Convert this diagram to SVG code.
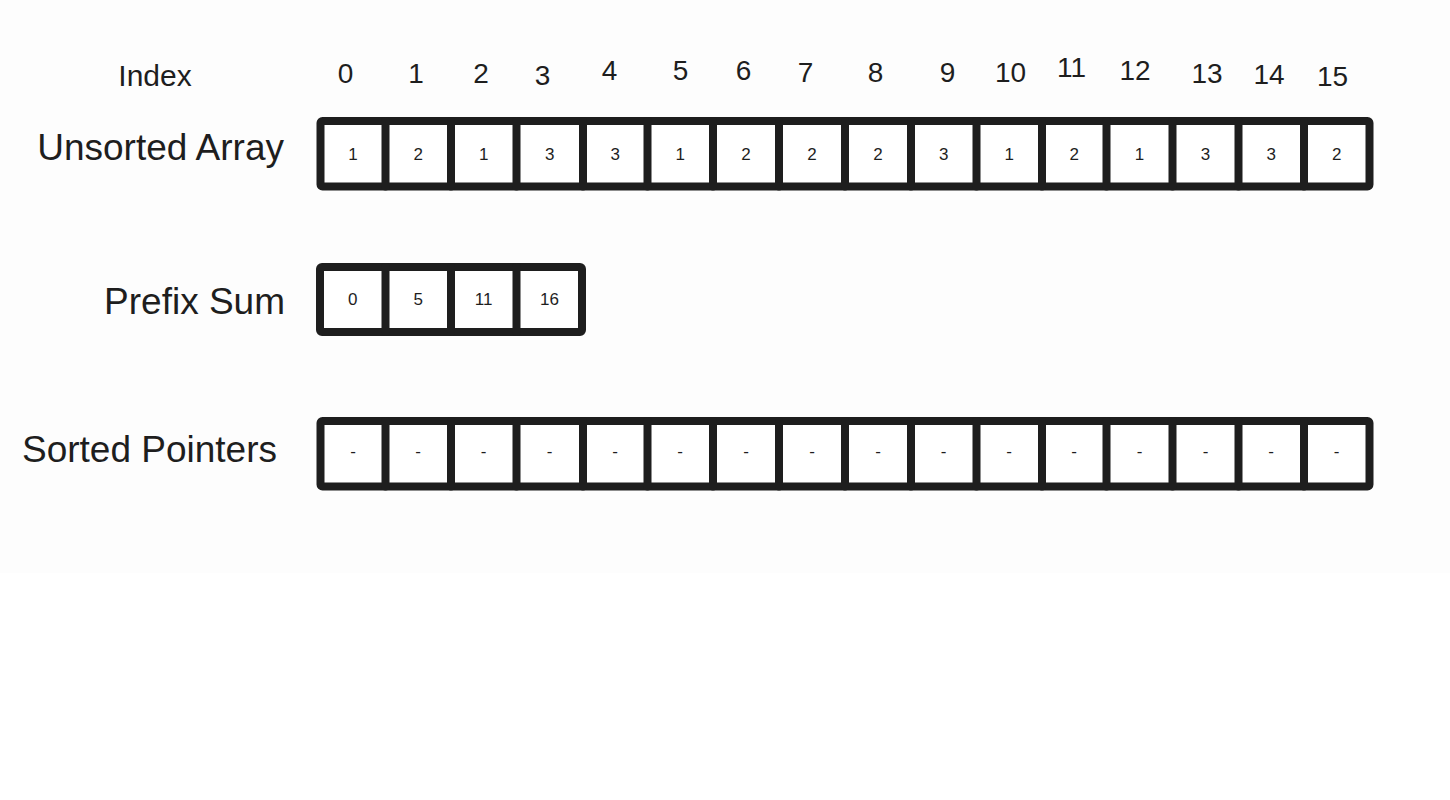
<svg xmlns="http://www.w3.org/2000/svg" width="1450" height="800" viewBox="0 0 1450 800">
  <style>
    .lbl { font-family: "Liberation Sans", Arial, sans-serif; fill: #1e1e1e; }
    .big { font-size: 37px; text-anchor: end; }
    .idx { font-size: 28px; text-anchor: middle; }
    .val { font-size: 17px; text-anchor: middle; }
    .box { fill: #ffffff; stroke: #1e1e1e; stroke-width: 8; stroke-linejoin: round; }
    .div { stroke: #1e1e1e; stroke-width: 8; stroke-linecap: round; fill: none; }
  </style>
  <rect x="0" y="0" width="1450" height="800" fill="#ffffff"/>
  <rect x="0" y="0" width="1450" height="573" fill="#fdfdfd"/>

  <g id="index-row">
    <text class="lbl" x="155" y="85.5" font-size="30" text-anchor="middle">Index</text>
    <text class="lbl idx" x="345.5" y="83.3">0</text>
    <text class="lbl idx" x="416" y="83">1</text>
    <text class="lbl idx" x="481" y="83">2</text>
    <text class="lbl idx" x="542.5" y="85">3</text>
    <text class="lbl idx" x="609.5" y="80">4</text>
    <text class="lbl idx" x="680.5" y="80">5</text>
    <text class="lbl idx" x="743.5" y="80">6</text>
    <text class="lbl idx" x="805.5" y="82">7</text>
    <text class="lbl idx" x="875.5" y="82">8</text>
    <text class="lbl idx" x="947.5" y="81.7">9</text>
    <text class="lbl idx" x="1010.5" y="81.7">10</text>
    <text class="lbl idx" x="1071.5" y="76.7">11</text>
    <text class="lbl idx" x="1135" y="80">12</text>
    <text class="lbl idx" x="1207" y="82.7">13</text>
    <text class="lbl idx" x="1269" y="84.3">14</text>
    <text class="lbl idx" x="1332.5" y="86">15</text>
  </g>

  <g id="unsorted-array">
    <text class="lbl big" x="284" y="160">Unsorted Array</text>
    <rect class="box" x="320.5" y="121" width="1049" height="65.5" rx="2"/>
    <path class="div" d="M385.5 121V186.5M451 121V186.5M516.5 121V186.5M583 121V186.5M647.5 121V186.5M713 121V186.5M779 121V186.5M845 121V186.5M911 121V186.5M976.5 121V186.5M1042 121V186.5M1106.5 121V186.5M1172.5 121V186.5M1238.5 121V186.5M1304 121V186.5"/>
    <text class="lbl val" x="353" y="160">1</text>
    <text class="lbl val" x="418.2" y="160">2</text>
    <text class="lbl val" x="483.7" y="160">1</text>
    <text class="lbl val" x="549.7" y="160">3</text>
    <text class="lbl val" x="615.2" y="160">3</text>
    <text class="lbl val" x="680.2" y="160">1</text>
    <text class="lbl val" x="746" y="160">2</text>
    <text class="lbl val" x="812" y="160">2</text>
    <text class="lbl val" x="878" y="160">2</text>
    <text class="lbl val" x="943.7" y="160">3</text>
    <text class="lbl val" x="1009.2" y="160">1</text>
    <text class="lbl val" x="1074.2" y="160">2</text>
    <text class="lbl val" x="1139.5" y="160">1</text>
    <text class="lbl val" x="1205.5" y="160">3</text>
    <text class="lbl val" x="1271.2" y="160">3</text>
    <text class="lbl val" x="1336.7" y="160">2</text>
  </g>

  <g id="prefix-sum">
    <text class="lbl big" x="285" y="314">Prefix Sum</text>
    <rect class="box" x="320" y="267" width="262" height="65" rx="2"/>
    <path class="div" d="M385.5 267V332M451 267V332M516.5 267V332"/>
    <text class="lbl val" x="352.7" y="305">0</text>
    <text class="lbl val" x="418.2" y="305">5</text>
    <text class="lbl val" x="483.7" y="305">11</text>
    <text class="lbl val" x="549.5" y="305">16</text>
  </g>

  <g id="sorted-pointers">
    <text class="lbl big" x="277" y="461.7">Sorted Pointers</text>
    <rect class="box" x="320.5" y="421" width="1049" height="65.5" rx="2"/>
    <path class="div" d="M385.5 421V486.5M451 421V486.5M516.5 421V486.5M583 421V486.5M647.5 421V486.5M713 421V486.5M779 421V486.5M845 421V486.5M911 421V486.5M976.5 421V486.5M1042 421V486.5M1106.5 421V486.5M1172.5 421V486.5M1238.5 421V486.5M1304 421V486.5"/>
    <text class="lbl val" x="353" y="457">-</text>
    <text class="lbl val" x="418.2" y="457">-</text>
    <text class="lbl val" x="483.7" y="457">-</text>
    <text class="lbl val" x="549.7" y="457">-</text>
    <text class="lbl val" x="615.2" y="457">-</text>
    <text class="lbl val" x="680.2" y="457">-</text>
    <text class="lbl val" x="746" y="457">-</text>
    <text class="lbl val" x="812" y="457">-</text>
    <text class="lbl val" x="878" y="457">-</text>
    <text class="lbl val" x="943.7" y="457">-</text>
    <text class="lbl val" x="1009.2" y="457">-</text>
    <text class="lbl val" x="1074.2" y="457">-</text>
    <text class="lbl val" x="1139.5" y="457">-</text>
    <text class="lbl val" x="1205.5" y="457">-</text>
    <text class="lbl val" x="1271.2" y="457">-</text>
    <text class="lbl val" x="1336.7" y="457">-</text>
  </g>
</svg>
